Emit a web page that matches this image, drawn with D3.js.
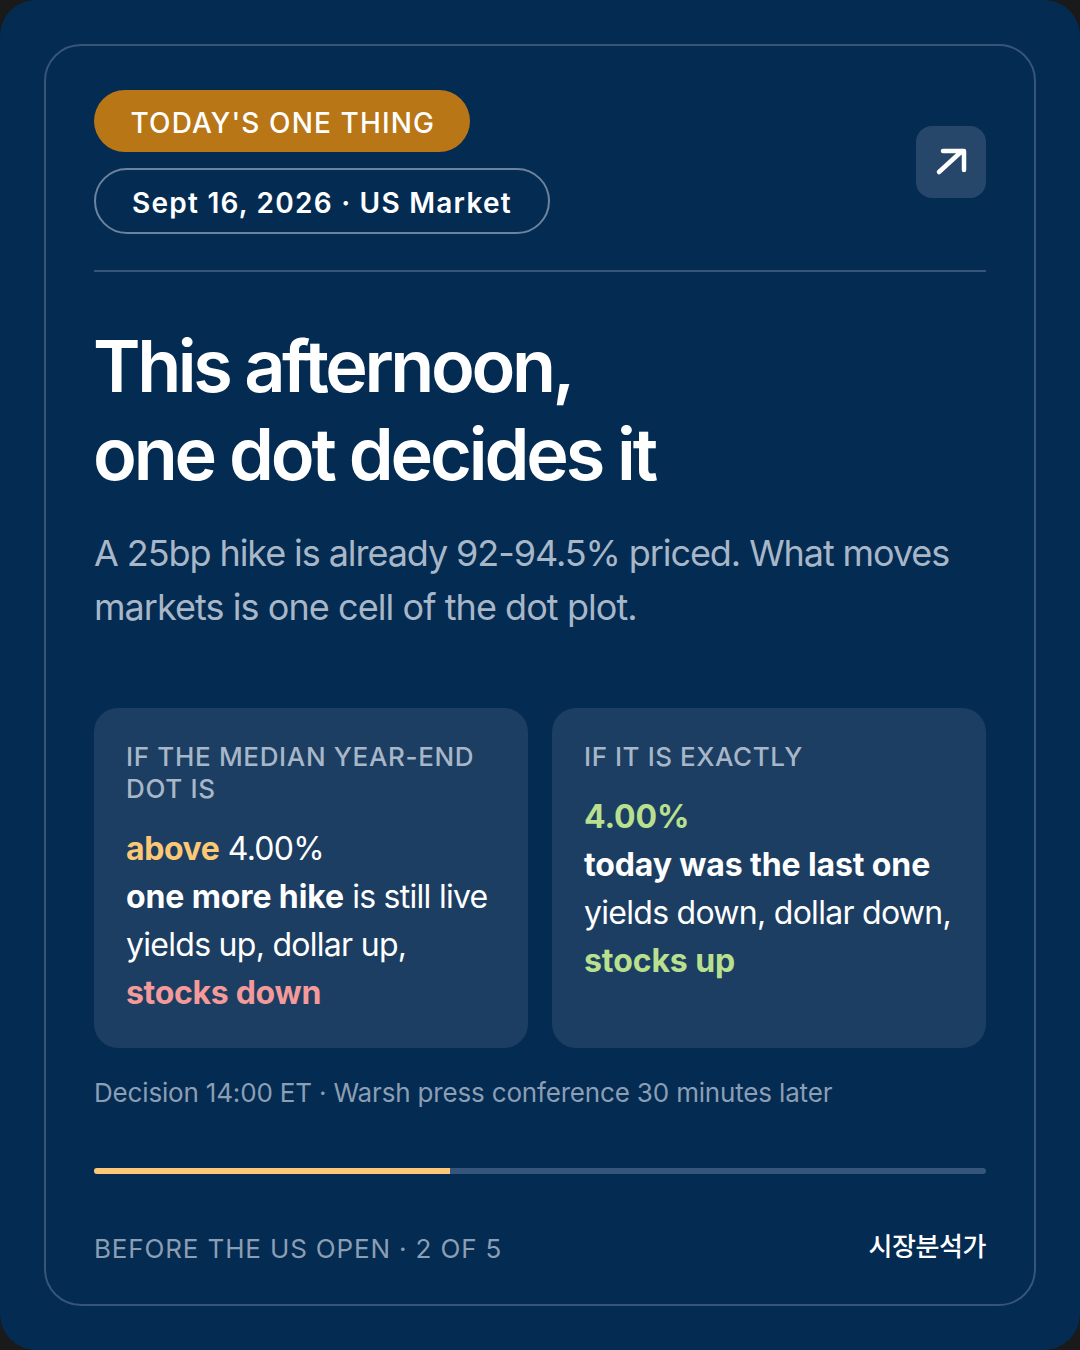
<!DOCTYPE html>
<html><head><meta charset="utf-8">
<script src="https://cdn.jsdelivr.net/npm/d3@7/dist/d3.min.js"></script>
<style>html,body{margin:0;padding:0;background:#1a1a1a}svg{display:block}text{font-family:Inter,"Noto Sans CJK KR",sans-serif;}</style>
</head><body><svg id="c" width="1080" height="1350"></svg>
<script>
const badgeLabel = "TODAY'S ONE THING";
const dateLabel = "Sept 16, 2026 · US Market";
const titleLines = ["This afternoon,", "one dot decides it"];
const subLines = ["A 25bp hike is already 92-94.5% priced. What moves", "markets is one cell of the dot plot."];
const leftHead = ["IF THE MEDIAN YEAR-END", "DOT IS"];
const rightHead = ["IF IT IS EXACTLY"];
const leftBody = [
  [["above","amber"],[" 4.00%","plain"]],
  [["one more hike","strong"],[" is still live","plain"]],
  [["yields up, dollar up,","plain"]],
  [["stocks down","red"]]
];
const rightBody = [
  [["4.00%","green"]],
  [["today was the last one","strong"]],
  [["yields down, dollar down,","plain"]],
  [["stocks up","green"]]
];
const noteLabel = "Decision 14:00 ET · Warsh press conference 30 minutes later";
const footLabel = "BEFORE THE US OPEN · 2 OF 5";
const brandLabel = "시장분석가";
const progressDone = 2, progressTotal = 5;

const roles={
  plain:{fill:"#fff",weight:400,ls:-0.72},
  strong:{fill:"#fff",weight:700,ls:-0.12},
  amber:{fill:"#fdc875",weight:700,ls:-0.4},
  red:{fill:"#f49a9a",weight:700,ls:-0.3},
  green:{fill:"#b9e08f",weight:700,ls:-0.1}
};
const titleSpacing=[-3.4,-3.15], subSpacing=[-1.08,-0.94];
const BG="#042b52";
const svg=d3.select("#c");
const x=d3.scaleLinear().domain([0,progressTotal]).range([94,986]);
function rect(px,py,w,h,r,fill,stroke,sw){return svg.append("rect").attr("x",px).attr("y",py).attr("width",w).attr("height",h).attr("rx",r).attr("fill",fill).attr("stroke",stroke||"none").attr("stroke-width",sw||0);}
function text(s,px,py,size,fill,weight,ls,anchor){return svg.append("text").attr("x",px).attr("y",py).attr("font-size",size).attr("fill",fill).attr("font-weight",weight||400).attr("letter-spacing",ls||0).attr("text-anchor",anchor||"start").text(s);}
function rich(lines,px,y0,dy,size){
  lines.forEach((ln,i)=>{
    const t=svg.append("text").attr("x",px).attr("y",y0+i*dy).attr("font-size",size).style("white-space","pre");
    t.selectAll("tspan").data(ln).join("tspan").attr("fill",d=>roles[d[1]].fill).attr("font-weight",d=>roles[d[1]].weight).attr("letter-spacing",d=>roles[d[1]].ls).text(d=>d[0]);
  });
}
rect(0,0,1080,1350,36,BG);
rect(45,45,990,1260,36,"none","#365579",2);
rect(94,90,376,62,31,"#b97616");
text(badgeLabel,130.5,133,28,"#fff",500,1.12);
rect(95,169,454,64,32,"none","#6c839e",2);
text(dateLabel,132,213,28,"#fff",600,1.24);
rect(916,126,70,72,16,"#264769");
svg.append("path").attr("d","M939 172L962 151M943 151L964 151L964 170").attr("fill","none").attr("stroke","#fff").attr("stroke-width",4.5).attr("stroke-linecap","round").attr("stroke-linejoin","round");
svg.append("line").attr("x1",94).attr("x2",986).attr("y1",271).attr("y2",271).attr("stroke","#365579").attr("stroke-width",2);
titleLines.forEach((s,i)=>text(s,93,392+i*88,72,"#fff",600,titleSpacing[i]));
subLines.forEach((s,i)=>text(s,94,566+i*54,36,"#a8b7c8",400,subSpacing[i]));
rect(94,708,434,340,24,"#1c3e62");
rect(552,708,434,340,24,"#1c3e62");
leftHead.forEach((s,i)=>text(s,126,766+i*32,26,"#a8b7c8",500,0.66));
rightHead.forEach((s,i)=>text(s,584,766+i*32,26,"#a8b7c8",500,0.55));
rich(leftBody,126,860,48,32);
rich(rightBody,584,828,48,32);
text(noteLabel,94,1102,26,"#8b9eb4",400,-0.17);
rect(94,1168,892,6,3,"#35567a");
svg.append("path").attr("d",`M${Math.floor(x(progressDone))} 1168H97a3 3 0 0 0 0 6H${Math.floor(x(progressDone))}Z`).attr("fill","#fdc875");
text(footLabel,94,1258,26,"#8b9eb4",400,0.85);
text(brandLabel,986,1256,26,"#fff",500,-0.4,"end");
</script></body></html>
